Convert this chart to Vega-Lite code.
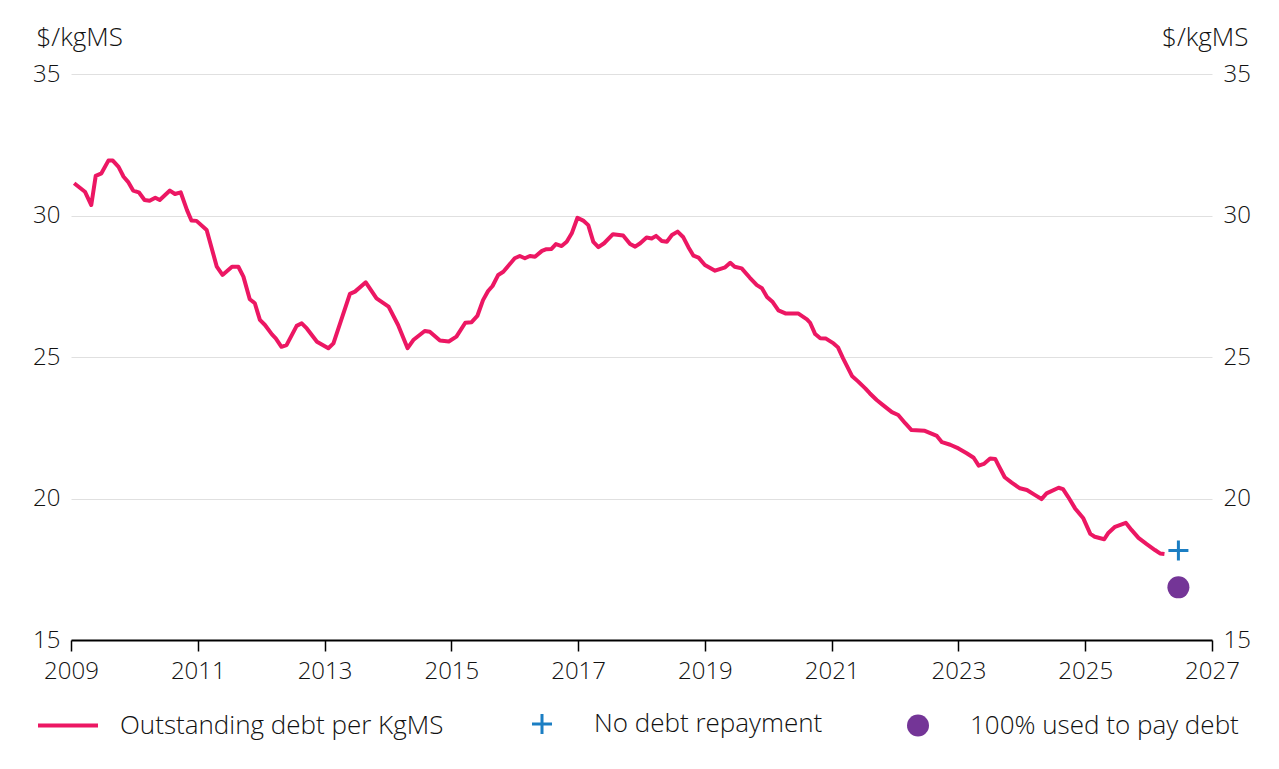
{
  "$schema": "https://vega.github.io/schema/vega-lite/v6.json",
  "width": 1141,
  "height": 566,
  "autosize": {"type": "none"},
  "padding": {"left": 71, "top": 74, "right": 67, "bottom": 129},
  "background": "white",
  "config": {
    "view": {"stroke": null},
    "font": "Open Sans",
    "axis": {
      "labelFont": "Open Sans",
      "labelFontSize": 24,
      "labelFontWeight": 300,
      "labelColor": "#111111",
      "titleFont": "Open Sans",
      "titleFontSize": 26,
      "titleFontWeight": 300,
      "titleColor": "#111111"
    },
    "legend": {
      "labelFont": "Open Sans",
      "labelFontSize": 26,
      "labelFontWeight": 300,
      "labelColor": "#111111"
    }
  },
  "data": {
    "values": [
      {"year": 2009.05, "value": 31.14, "series": "Outstanding debt per KgMS"},
      {"year": 2009.22, "value": 30.84, "series": "Outstanding debt per KgMS"},
      {"year": 2009.32, "value": 30.37, "series": "Outstanding debt per KgMS"},
      {"year": 2009.39, "value": 31.40, "series": "Outstanding debt per KgMS"},
      {"year": 2009.48, "value": 31.49, "series": "Outstanding debt per KgMS"},
      {"year": 2009.59, "value": 31.94, "series": "Outstanding debt per KgMS"},
      {"year": 2009.66, "value": 31.94, "series": "Outstanding debt per KgMS"},
      {"year": 2009.75, "value": 31.72, "series": "Outstanding debt per KgMS"},
      {"year": 2009.83, "value": 31.37, "series": "Outstanding debt per KgMS"},
      {"year": 2009.90, "value": 31.19, "series": "Outstanding debt per KgMS"},
      {"year": 2009.98, "value": 30.88, "series": "Outstanding debt per KgMS"},
      {"year": 2010.07, "value": 30.82, "series": "Outstanding debt per KgMS"},
      {"year": 2010.16, "value": 30.55, "series": "Outstanding debt per KgMS"},
      {"year": 2010.24, "value": 30.52, "series": "Outstanding debt per KgMS"},
      {"year": 2010.33, "value": 30.63, "series": "Outstanding debt per KgMS"},
      {"year": 2010.40, "value": 30.55, "series": "Outstanding debt per KgMS"},
      {"year": 2010.56, "value": 30.88, "series": "Outstanding debt per KgMS"},
      {"year": 2010.64, "value": 30.76, "series": "Outstanding debt per KgMS"},
      {"year": 2010.73, "value": 30.82, "series": "Outstanding debt per KgMS"},
      {"year": 2010.83, "value": 30.19, "series": "Outstanding debt per KgMS"},
      {"year": 2010.90, "value": 29.82, "series": "Outstanding debt per KgMS"},
      {"year": 2010.98, "value": 29.81, "series": "Outstanding debt per KgMS"},
      {"year": 2011.14, "value": 29.49, "series": "Outstanding debt per KgMS"},
      {"year": 2011.30, "value": 28.19, "series": "Outstanding debt per KgMS"},
      {"year": 2011.39, "value": 27.90, "series": "Outstanding debt per KgMS"},
      {"year": 2011.54, "value": 28.19, "series": "Outstanding debt per KgMS"},
      {"year": 2011.64, "value": 28.19, "series": "Outstanding debt per KgMS"},
      {"year": 2011.72, "value": 27.84, "series": "Outstanding debt per KgMS"},
      {"year": 2011.82, "value": 27.04, "series": "Outstanding debt per KgMS"},
      {"year": 2011.90, "value": 26.90, "series": "Outstanding debt per KgMS"},
      {"year": 2011.98, "value": 26.31, "series": "Outstanding debt per KgMS"},
      {"year": 2012.06, "value": 26.13, "series": "Outstanding debt per KgMS"},
      {"year": 2012.17, "value": 25.80, "series": "Outstanding debt per KgMS"},
      {"year": 2012.23, "value": 25.66, "series": "Outstanding debt per KgMS"},
      {"year": 2012.32, "value": 25.36, "series": "Outstanding debt per KgMS"},
      {"year": 2012.40, "value": 25.42, "series": "Outstanding debt per KgMS"},
      {"year": 2012.56, "value": 26.10, "series": "Outstanding debt per KgMS"},
      {"year": 2012.64, "value": 26.19, "series": "Outstanding debt per KgMS"},
      {"year": 2012.72, "value": 26.01, "series": "Outstanding debt per KgMS"},
      {"year": 2012.88, "value": 25.54, "series": "Outstanding debt per KgMS"},
      {"year": 2013.06, "value": 25.31, "series": "Outstanding debt per KgMS"},
      {"year": 2013.14, "value": 25.48, "series": "Outstanding debt per KgMS"},
      {"year": 2013.40, "value": 27.23, "series": "Outstanding debt per KgMS"},
      {"year": 2013.48, "value": 27.31, "series": "Outstanding debt per KgMS"},
      {"year": 2013.65, "value": 27.64, "series": "Outstanding debt per KgMS"},
      {"year": 2013.82, "value": 27.07, "series": "Outstanding debt per KgMS"},
      {"year": 2014.01, "value": 26.78, "series": "Outstanding debt per KgMS"},
      {"year": 2014.16, "value": 26.13, "series": "Outstanding debt per KgMS"},
      {"year": 2014.31, "value": 25.31, "series": "Outstanding debt per KgMS"},
      {"year": 2014.40, "value": 25.60, "series": "Outstanding debt per KgMS"},
      {"year": 2014.58, "value": 25.92, "series": "Outstanding debt per KgMS"},
      {"year": 2014.66, "value": 25.89, "series": "Outstanding debt per KgMS"},
      {"year": 2014.82, "value": 25.58, "series": "Outstanding debt per KgMS"},
      {"year": 2014.96, "value": 25.55, "series": "Outstanding debt per KgMS"},
      {"year": 2015.08, "value": 25.72, "series": "Outstanding debt per KgMS"},
      {"year": 2015.22, "value": 26.21, "series": "Outstanding debt per KgMS"},
      {"year": 2015.32, "value": 26.23, "series": "Outstanding debt per KgMS"},
      {"year": 2015.41, "value": 26.45, "series": "Outstanding debt per KgMS"},
      {"year": 2015.50, "value": 27.01, "series": "Outstanding debt per KgMS"},
      {"year": 2015.58, "value": 27.33, "series": "Outstanding debt per KgMS"},
      {"year": 2015.65, "value": 27.51, "series": "Outstanding debt per KgMS"},
      {"year": 2015.74, "value": 27.90, "series": "Outstanding debt per KgMS"},
      {"year": 2015.82, "value": 28.01, "series": "Outstanding debt per KgMS"},
      {"year": 2016.00, "value": 28.49, "series": "Outstanding debt per KgMS"},
      {"year": 2016.08, "value": 28.57, "series": "Outstanding debt per KgMS"},
      {"year": 2016.16, "value": 28.49, "series": "Outstanding debt per KgMS"},
      {"year": 2016.24, "value": 28.57, "series": "Outstanding debt per KgMS"},
      {"year": 2016.32, "value": 28.54, "series": "Outstanding debt per KgMS"},
      {"year": 2016.43, "value": 28.75, "series": "Outstanding debt per KgMS"},
      {"year": 2016.50, "value": 28.81, "series": "Outstanding debt per KgMS"},
      {"year": 2016.58, "value": 28.82, "series": "Outstanding debt per KgMS"},
      {"year": 2016.65, "value": 28.99, "series": "Outstanding debt per KgMS"},
      {"year": 2016.74, "value": 28.92, "series": "Outstanding debt per KgMS"},
      {"year": 2016.82, "value": 29.07, "series": "Outstanding debt per KgMS"},
      {"year": 2016.90, "value": 29.37, "series": "Outstanding debt per KgMS"},
      {"year": 2016.99, "value": 29.92, "series": "Outstanding debt per KgMS"},
      {"year": 2017.08, "value": 29.82, "series": "Outstanding debt per KgMS"},
      {"year": 2017.16, "value": 29.66, "series": "Outstanding debt per KgMS"},
      {"year": 2017.24, "value": 29.07, "series": "Outstanding debt per KgMS"},
      {"year": 2017.32, "value": 28.88, "series": "Outstanding debt per KgMS"},
      {"year": 2017.41, "value": 29.02, "series": "Outstanding debt per KgMS"},
      {"year": 2017.55, "value": 29.34, "series": "Outstanding debt per KgMS"},
      {"year": 2017.71, "value": 29.29, "series": "Outstanding debt per KgMS"},
      {"year": 2017.82, "value": 28.99, "series": "Outstanding debt per KgMS"},
      {"year": 2017.90, "value": 28.90, "series": "Outstanding debt per KgMS"},
      {"year": 2017.98, "value": 29.02, "series": "Outstanding debt per KgMS"},
      {"year": 2018.08, "value": 29.22, "series": "Outstanding debt per KgMS"},
      {"year": 2018.16, "value": 29.19, "series": "Outstanding debt per KgMS"},
      {"year": 2018.23, "value": 29.28, "series": "Outstanding debt per KgMS"},
      {"year": 2018.32, "value": 29.10, "series": "Outstanding debt per KgMS"},
      {"year": 2018.40, "value": 29.07, "series": "Outstanding debt per KgMS"},
      {"year": 2018.48, "value": 29.31, "series": "Outstanding debt per KgMS"},
      {"year": 2018.57, "value": 29.43, "series": "Outstanding debt per KgMS"},
      {"year": 2018.66, "value": 29.23, "series": "Outstanding debt per KgMS"},
      {"year": 2018.74, "value": 28.88, "series": "Outstanding debt per KgMS"},
      {"year": 2018.82, "value": 28.58, "series": "Outstanding debt per KgMS"},
      {"year": 2018.90, "value": 28.51, "series": "Outstanding debt per KgMS"},
      {"year": 2019.00, "value": 28.25, "series": "Outstanding debt per KgMS"},
      {"year": 2019.16, "value": 28.05, "series": "Outstanding debt per KgMS"},
      {"year": 2019.32, "value": 28.17, "series": "Outstanding debt per KgMS"},
      {"year": 2019.40, "value": 28.33, "series": "Outstanding debt per KgMS"},
      {"year": 2019.47, "value": 28.19, "series": "Outstanding debt per KgMS"},
      {"year": 2019.58, "value": 28.13, "series": "Outstanding debt per KgMS"},
      {"year": 2019.71, "value": 27.80, "series": "Outstanding debt per KgMS"},
      {"year": 2019.82, "value": 27.54, "series": "Outstanding debt per KgMS"},
      {"year": 2019.90, "value": 27.43, "series": "Outstanding debt per KgMS"},
      {"year": 2019.98, "value": 27.12, "series": "Outstanding debt per KgMS"},
      {"year": 2020.07, "value": 26.94, "series": "Outstanding debt per KgMS"},
      {"year": 2020.16, "value": 26.65, "series": "Outstanding debt per KgMS"},
      {"year": 2020.27, "value": 26.54, "series": "Outstanding debt per KgMS"},
      {"year": 2020.47, "value": 26.54, "series": "Outstanding debt per KgMS"},
      {"year": 2020.61, "value": 26.33, "series": "Outstanding debt per KgMS"},
      {"year": 2020.66, "value": 26.21, "series": "Outstanding debt per KgMS"},
      {"year": 2020.74, "value": 25.81, "series": "Outstanding debt per KgMS"},
      {"year": 2020.82, "value": 25.66, "series": "Outstanding debt per KgMS"},
      {"year": 2020.91, "value": 25.65, "series": "Outstanding debt per KgMS"},
      {"year": 2021.03, "value": 25.48, "series": "Outstanding debt per KgMS"},
      {"year": 2021.10, "value": 25.34, "series": "Outstanding debt per KgMS"},
      {"year": 2021.18, "value": 24.95, "series": "Outstanding debt per KgMS"},
      {"year": 2021.32, "value": 24.33, "series": "Outstanding debt per KgMS"},
      {"year": 2021.42, "value": 24.13, "series": "Outstanding debt per KgMS"},
      {"year": 2021.53, "value": 23.89, "series": "Outstanding debt per KgMS"},
      {"year": 2021.60, "value": 23.72, "series": "Outstanding debt per KgMS"},
      {"year": 2021.71, "value": 23.48, "series": "Outstanding debt per KgMS"},
      {"year": 2021.81, "value": 23.30, "series": "Outstanding debt per KgMS"},
      {"year": 2021.95, "value": 23.05, "series": "Outstanding debt per KgMS"},
      {"year": 2022.05, "value": 22.95, "series": "Outstanding debt per KgMS"},
      {"year": 2022.16, "value": 22.66, "series": "Outstanding debt per KgMS"},
      {"year": 2022.26, "value": 22.42, "series": "Outstanding debt per KgMS"},
      {"year": 2022.47, "value": 22.39, "series": "Outstanding debt per KgMS"},
      {"year": 2022.66, "value": 22.21, "series": "Outstanding debt per KgMS"},
      {"year": 2022.74, "value": 21.99, "series": "Outstanding debt per KgMS"},
      {"year": 2022.87, "value": 21.90, "series": "Outstanding debt per KgMS"},
      {"year": 2023.00, "value": 21.77, "series": "Outstanding debt per KgMS"},
      {"year": 2023.13, "value": 21.60, "series": "Outstanding debt per KgMS"},
      {"year": 2023.24, "value": 21.44, "series": "Outstanding debt per KgMS"},
      {"year": 2023.32, "value": 21.16, "series": "Outstanding debt per KgMS"},
      {"year": 2023.40, "value": 21.22, "series": "Outstanding debt per KgMS"},
      {"year": 2023.50, "value": 21.41, "series": "Outstanding debt per KgMS"},
      {"year": 2023.58, "value": 21.40, "series": "Outstanding debt per KgMS"},
      {"year": 2023.63, "value": 21.18, "series": "Outstanding debt per KgMS"},
      {"year": 2023.73, "value": 20.75, "series": "Outstanding debt per KgMS"},
      {"year": 2023.84, "value": 20.56, "series": "Outstanding debt per KgMS"},
      {"year": 2023.97, "value": 20.36, "series": "Outstanding debt per KgMS"},
      {"year": 2024.08, "value": 20.30, "series": "Outstanding debt per KgMS"},
      {"year": 2024.21, "value": 20.12, "series": "Outstanding debt per KgMS"},
      {"year": 2024.31, "value": 19.98, "series": "Outstanding debt per KgMS"},
      {"year": 2024.39, "value": 20.18, "series": "Outstanding debt per KgMS"},
      {"year": 2024.58, "value": 20.38, "series": "Outstanding debt per KgMS"},
      {"year": 2024.65, "value": 20.33, "series": "Outstanding debt per KgMS"},
      {"year": 2024.73, "value": 20.06, "series": "Outstanding debt per KgMS"},
      {"year": 2024.84, "value": 19.65, "series": "Outstanding debt per KgMS"},
      {"year": 2024.97, "value": 19.30, "series": "Outstanding debt per KgMS"},
      {"year": 2025.08, "value": 18.75, "series": "Outstanding debt per KgMS"},
      {"year": 2025.15, "value": 18.65, "series": "Outstanding debt per KgMS"},
      {"year": 2025.30, "value": 18.56, "series": "Outstanding debt per KgMS"},
      {"year": 2025.36, "value": 18.77, "series": "Outstanding debt per KgMS"},
      {"year": 2025.47, "value": 19.00, "series": "Outstanding debt per KgMS"},
      {"year": 2025.64, "value": 19.14, "series": "Outstanding debt per KgMS"},
      {"year": 2025.73, "value": 18.89, "series": "Outstanding debt per KgMS"},
      {"year": 2025.84, "value": 18.61, "series": "Outstanding debt per KgMS"},
      {"year": 2025.97, "value": 18.39, "series": "Outstanding debt per KgMS"},
      {"year": 2026.10, "value": 18.18, "series": "Outstanding debt per KgMS"},
      {"year": 2026.18, "value": 18.06, "series": "Outstanding debt per KgMS"},
      {"year": 2026.25, "value": 18.04, "series": "Outstanding debt per KgMS"},
      {"year": 2026.47, "value": 18.16, "series": "No debt repayment"},
      {"year": 2026.47, "value": 16.86, "series": "100% used to pay debt"}
    ]
  },
  "resolve": {"axis": {"y": "independent"}},
  "layer": [
    {
      "transform": [{"filter": "datum.series === 'Outstanding debt per KgMS'"}],
      "mark": {"type": "line", "strokeWidth": 4, "strokeJoin": "round", "strokeCap": "butt", "interpolate": "linear"},
      "encoding": {
        "x": {
          "field": "year", "type": "quantitative",
          "scale": {"domain": [2009, 2027], "nice": false, "zero": false},
          "axis": {
            "title": null,
            "values": [2009, 2011, 2013, 2015, 2017, 2019, 2021, 2023, 2025, 2027],
            "format": "d",
            "grid": false,
            "domainColor": "#000000",
            "domainWidth": 2,
            "tickColor": "#000000",
            "tickWidth": 1.5,
            "tickSize": 11,
            "labelPadding": 8,
            "labelFlush": false,
            "labelOverlap": false
          }
        },
        "y": {
          "field": "value", "type": "quantitative",
          "scale": {"domain": [15, 35], "nice": false, "zero": false},
          "axis": {
            "orient": "left",
            "title": "$/kgMS",
            "titleAngle": 0,
            "titleAlign": "left",
            "titleBaseline": "middle",
            "titleX": -35,
            "titleY": -37,
            "values": [15, 20, 25, 30, 35],
            "domain": false,
            "ticks": false,
            "labelPadding": 11,
            "grid": true,
            "gridColor": "#e0e0e0",
            "gridWidth": 1
          }
        },
        "color": {
          "field": "series", "type": "nominal",
          "scale": {
            "domain": ["Outstanding debt per KgMS", "No debt repayment", "100% used to pay debt"],
            "range": ["#ec1763", "#1b7ec3", "#743597"]
          },
          "legend": {
            "title": null,
            "orient": "none",
            "direction": "horizontal",
            "legendX": -16,
            "legendY": 637,
            "columns": 3,
            "columnPadding": 82,
            "labelOffset": 39,
            "labelLimit": 500,
            "encode": {
              "symbols": {
                "update": {
                  "shape": {"signal": "datum.value === 'Outstanding debt per KgMS' ? 'stroke' : datum.value === 'No debt repayment' ? 'M-1,0H1M0,-1V1' : 'circle'"},
                  "size": {"signal": "datum.value === 'Outstanding debt per KgMS' ? 3600 : datum.value === 'No debt repayment' ? 400 : 484"},
                  "strokeWidth": {"signal": "datum.value === 'Outstanding debt per KgMS' ? 4 : datum.value === 'No debt repayment' ? 3 : 0"},
                  "stroke": {"signal": "datum.value === 'Outstanding debt per KgMS' ? '#ec1763' : datum.value === 'No debt repayment' ? '#1b7ec3' : 'transparent'"},
                  "fill": {"signal": "datum.value === '100% used to pay debt' ? '#743597' : 'transparent'"},
                  "opacity": {"value": 1},
                  "fillOpacity": {"value": 1},
                  "strokeOpacity": {"value": 1}
                }
              }
            }
          }
        }
      }
    },
    {
      "transform": [{"filter": "datum.series === 'No debt repayment'"}],
      "mark": {"type": "point", "shape": "M-1,0H1M0,-1V1", "filled": false, "size": 400, "strokeWidth": 3, "opacity": 1},
      "encoding": {
        "x": {"field": "year", "type": "quantitative"},
        "y": {
          "field": "value", "type": "quantitative",
          "axis": {
            "orient": "right",
            "title": "$/kgMS",
            "titleAngle": 0,
            "titleAlign": "right",
            "titleBaseline": "middle",
            "titleX": 36,
            "titleY": -37,
            "values": [15, 20, 25, 30, 35],
            "domain": false,
            "ticks": false,
            "labelPadding": 11,
            "grid": false
          }
        },
        "color": {"field": "series", "type": "nominal"}
      }
    },
    {
      "transform": [{"filter": "datum.series === '100% used to pay debt'"}],
      "mark": {"type": "point", "shape": "circle", "filled": true, "size": 484, "opacity": 1},
      "encoding": {
        "x": {"field": "year", "type": "quantitative"},
        "y": {"field": "value", "type": "quantitative", "axis": null},
        "color": {"field": "series", "type": "nominal"}
      }
    }
  ]
}
